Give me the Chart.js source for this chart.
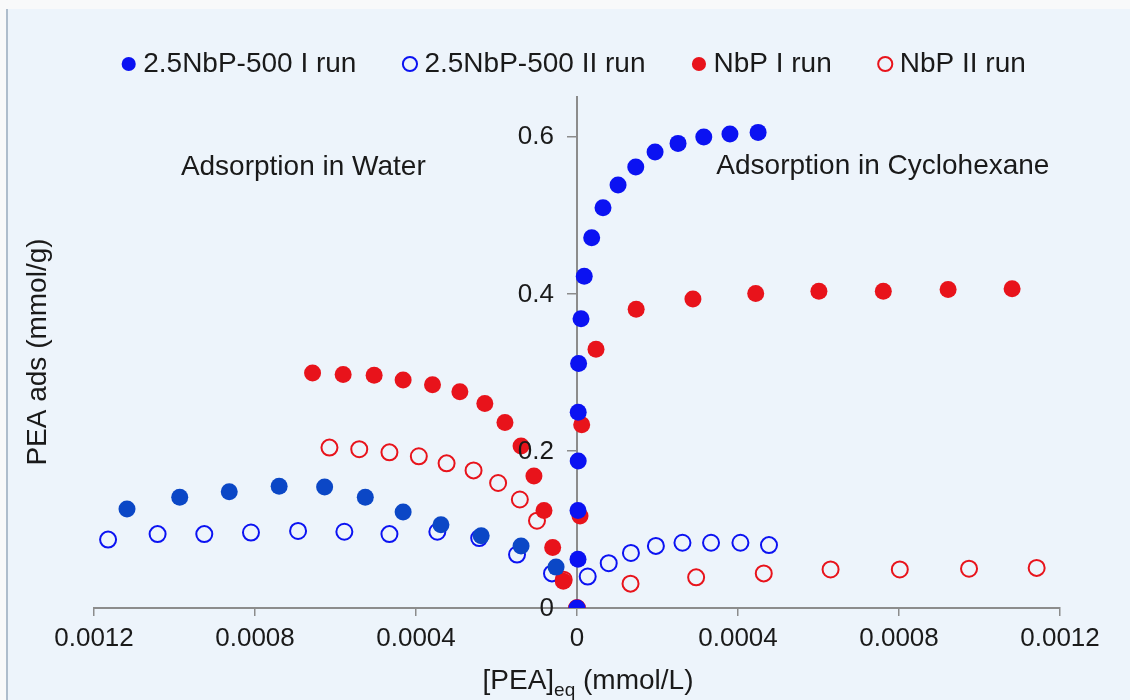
<!DOCTYPE html>
<html>
<head>
<meta charset="utf-8">
<script src="https://cdn.jsdelivr.net/npm/chart.js@4"></script>
<style>
    body { margin: 0; background: #f8f9fa; width: 1130px; height: 700px; position: relative; overflow: hidden; }
    .frame { position: absolute; left: 6px; top: 9px; width: 1122px; height: 691px; background: #edf4fb; border-left: 2px solid #aebdcc; }
    #myChart { position: absolute; left: 0; top: 0; }
</style>
</head>
<body>
<div class="frame"></div>
<canvas id="myChart" width="1130" height="700"></canvas>
<script>
// data, water side stored as positive concentrations (drawn mirrored to the left)
const labels = ["2.5NbP-500 I run", "2.5NbP-500 II run", "NbP I run", "NbP II run"];

// 2.5NbP-500 I run
const cyNbP500IX = [0, 0.0000025, 0.0000025, 0.000003, 0.000003, 0.000004, 0.00001, 0.000018, 0.0000365, 0.0000646, 0.000102, 0.000146, 0.000194, 0.000251, 0.000315, 0.00038, 0.00045];
const cyNbP500IY = [0, 0.062, 0.124, 0.187, 0.249, 0.311, 0.368, 0.422, 0.471, 0.509, 0.538, 0.561, 0.580, 0.591, 0.599, 0.603, 0.605];
const waNbP500IX = [0.000052, 0.000139, 0.000238, 0.000338, 0.000432, 0.000526, 0.000627, 0.00074, 0.000864, 0.000987, 0.001118];
const waNbP500IY = [0.052, 0.079, 0.092, 0.106, 0.122, 0.141, 0.154, 0.155, 0.148, 0.141, 0.126];

// 2.5NbP-500 II run
const cyNbP500IIX = [0.0000266, 0.0000788, 0.000134, 0.000196, 0.000262, 0.000333, 0.000406, 0.000477];
const cyNbP500IIY = [0.040, 0.057, 0.070, 0.079, 0.083, 0.083, 0.083, 0.080];
const waNbP500IIX = [0.0000621, 0.000149, 0.000243, 0.000347, 0.000466, 0.000578, 0.000693, 0.00081, 0.000926, 0.001042, 0.001165];
const waNbP500IIY = [0.044, 0.068, 0.089, 0.097, 0.094, 0.097, 0.098, 0.096, 0.094, 0.094, 0.087];

// NbP I run
const cyNbPIX = [0, 0.0000075, 0.0000117, 0.0000472, 0.000147, 0.000288, 0.000444, 0.000601, 0.000761, 0.000922, 0.001081];
const cyNbPIY = [0, 0.117, 0.233, 0.329, 0.380, 0.393, 0.400, 0.403, 0.403, 0.405, 0.406];
const waNbPIX = [0.000034, 0.0000604, 0.000082, 0.000107, 0.000139, 0.000179, 0.000229, 0.000291, 0.000359, 0.000432, 0.000504, 0.000581, 0.000657];
const waNbPIY = [0.034, 0.077, 0.124, 0.168, 0.206, 0.236, 0.260, 0.275, 0.284, 0.290, 0.296, 0.297, 0.299];

// NbP II run
const cyNbPIIX = [0, 0.000133, 0.000296, 0.000464, 0.00063, 0.000802, 0.000974, 0.001142];
const cyNbPIIY = [0, 0.031, 0.039, 0.044, 0.049, 0.049, 0.050, 0.051];
const waNbPIIX = [0.000033, 0.0000994, 0.000142, 0.000196, 0.000257, 0.000324, 0.000393, 0.000466, 0.000541, 0.000615];
const waNbPIIY = [0.036, 0.111, 0.138, 0.159, 0.175, 0.184, 0.193, 0.198, 0.202, 0.204];

const xTicks = [-0.0012, -0.0008, -0.0004, 0, 0.0004, 0.0008, 0.0012];
const yTicks = [0, 0.2, 0.4, 0.6];

const FONT = '"Liberation Sans", Arial, sans-serif';
const BLUE = "#0b12f2";
const DARKBLUE = "#0b47c6";
const RED = "#e8131b";

const toPoints = (xs, ys, side) => xs.map((v, i) => ({ x: side * v, y: ys[i] }));

function series(label, xs, ys, side, color, filled, legend) {
    return {
        label: label,
        data: toPoints(xs, ys, side),
        pointRadius: filled ? 8.5 : 8,
        pointHoverRadius: 8.5,
        pointBackgroundColor: filled ? color : "rgba(0,0,0,0)",
        pointBorderColor: color,
        pointBorderWidth: filled ? 0 : 2,
        backgroundColor: filled ? color : "rgba(0,0,0,0)",
        borderColor: color,
        borderWidth: filled ? 0 : 2,
        showLine: false,
        inLegend: legend,
    };
}

const datasets = [
    series(labels[0], cyNbP500IX, cyNbP500IY, 1, BLUE, true, true),
    series(labels[1], cyNbP500IIX, cyNbP500IIY, 1, BLUE, false, true),
    series(labels[2], cyNbPIX, cyNbPIY, 1, RED, true, true),
    series(labels[3], cyNbPIIX, cyNbPIIY, 1, RED, false, true),
    series(labels[0], waNbP500IX, waNbP500IY, -1, DARKBLUE, true, false),
    series(labels[2], waNbPIX, waNbPIY, -1, RED, true, false),
    series(labels[1], waNbP500IIX, waNbP500IIY, -1, BLUE, false, false),
    series(labels[3], waNbPIIX, waNbPIIY, -1, RED, false, false),
];

const fmt = (v) => String(parseFloat(Math.abs(v).toFixed(4)));

// legend on one row and a fixed height, so the plot area starts where the original does
const sizePlugin = {
    id: "sizePlugin",
    beforeInit(chart) {
        const fit = chart.legend.fit;
        chart.legend.fit = function () {
            const mw = this.maxWidth;
            this.maxWidth = 2000;
            fit.call(this);
            this.maxWidth = mw;
            this.width = mw;
            this.height = 97;
        };
    },
    afterLayout(chart) {
        // widen the legend box around the plot centre so the row is not wrapped
        const lg = chart.legend;
        const mid = (chart.chartArea.left + chart.chartArea.right) / 2;
        lg.left = mid - 560;
        lg.right = mid + 560;
        lg.width = 1120;
        lg.top = -3;
    },
};

const textPlugin = {
    id: "textPlugin",
    afterDraw(chart) {
        const { ctx } = chart;
        const x = chart.scales.x;
        const y = chart.scales.y;
        ctx.save();
        ctx.fillStyle = "#1a1a1a";

        // y tick labels, left of the centred axis
        ctx.font = "26px " + FONT;
        ctx.textAlign = "right";
        ctx.textBaseline = "middle";
        const axisX = x.getPixelForValue(0);
        y.ticks.forEach((t) => {
            ctx.fillText(fmt(t.value), axisX - 23, y.getPixelForValue(t.value) + 1);
        });

        ctx.font = "28px " + FONT;
        ctx.textAlign = "center";
        ctx.fillText("Adsorption in Water", x.getPixelForValue(-0.00068), y.getPixelForValue(0.56));
        ctx.fillText("Adsorption in Cyclohexane", x.getPixelForValue(0.00076), y.getPixelForValue(0.562));

        // y title
        ctx.save();
        ctx.translate(38, 352);
        ctx.rotate(-Math.PI / 2);
        ctx.fillText("PEA ads (mmol/g)", 0, 0);
        ctx.restore();

        // x title with subscript
        ctx.textAlign = "left";
        ctx.textBaseline = "alphabetic";
        const a = "[PEA]";
        const b = "eq";
        const c = " (mmol/L)";
        ctx.font = "28px " + FONT;
        const wa = ctx.measureText(a).width;
        const wc = ctx.measureText(c).width;
        ctx.font = "19px " + FONT;
        const wb = ctx.measureText(b).width;
        let sx = 588 - (wa + wb + wc) / 2;
        ctx.font = "28px " + FONT;
        ctx.fillText(a, sx, 689);
        ctx.font = "19px " + FONT;
        ctx.fillText(b, sx + wa, 696);
        ctx.font = "28px " + FONT;
        ctx.fillText(c, sx + wa + wb, 689);
        ctx.restore();
    },
};

const ctx = document.getElementById("myChart").getContext("2d");

new Chart(ctx, {
    type: "scatter",
    data: { datasets: datasets },
    options: {
        responsive: false,
        animation: false,
        devicePixelRatio: 1,
        layout: { padding: { left: 94, right: 70, top: 0, bottom: 0 } },
        scales: {
            x: {
                type: "linear",
                position: "bottom",
                min: -0.0012,
                max: 0.0012,
                afterBuildTicks: (scale) => {
                    scale.ticks = xTicks.map((v) => ({ value: v }));
                },
                afterFit: (scale) => {
                    scale.height = 92;
                },
                ticks: {
                    callback: (value) => fmt(value),
                    color: "#1a1a1a",
                    font: { family: FONT, size: 26 },
                    padding: 7,
                    maxRotation: 0,
                    autoSkip: false,
                },
                grid: { drawOnChartArea: false, drawTicks: true, tickLength: 8, color: "#8c8c8c", lineWidth: 1.5 },
                border: { display: true, color: "#8c8c8c", width: 2 },
            },
            y: {
                type: "linear",
                position: { x: 0 },
                min: 0,
                max: 0.65,
                afterBuildTicks: (scale) => {
                    scale.ticks = yTicks.map((v) => ({ value: v }));
                },
                ticks: { display: false },
                grid: { drawOnChartArea: false, drawTicks: true, tickLength: 9, color: "#8c8c8c", lineWidth: 1.5 },
                border: { display: true, color: "#8c8c8c", width: 2 },
            },
        },
        plugins: {
            legend: {
                position: "top",
                labels: {
                    usePointStyle: true,
                    pointStyle: "circle",
                    boxWidth: 1,
                    boxHeight: 10,
                    padding: 53,
                    color: "#1a1a1a",
                    font: { family: FONT, size: 28 },
                    filter: (item, data) => data.datasets[item.datasetIndex].inLegend,
                },
            },
            tooltip: { enabled: false },
        },
    },
    plugins: [sizePlugin, textPlugin],
});
</script>
</body>
</html>
